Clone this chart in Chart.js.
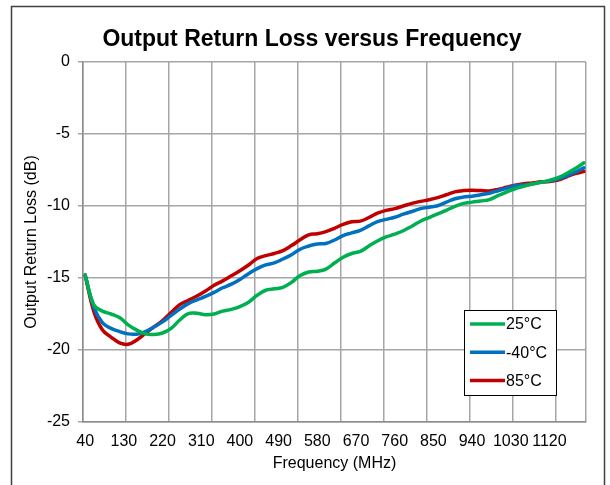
<!DOCTYPE html>
<html>
<head>
<meta charset="utf-8">
<script src="https://cdn.jsdelivr.net/npm/chart.js@4.4.1/dist/chart.umd.min.js"></script>
<style>
    html, body { margin: 0; padding: 0; background: #ffffff; }
    canvas { display: block; }
</style>
</head>
<body>
<canvas id="chartCanvasId" width="610" height="485"></canvas>
<script>
"use strict";

// frequency points (MHz), read every 20 MHz off the picture
const freqs = [
    40, 60, 80, 100, 120, 140, 160, 180, 200, 220,
    240, 260, 280, 300, 320, 340, 360, 380, 400, 420,
    440, 460, 480, 500, 520, 540, 560, 580, 600, 620,
    640, 660, 680, 700, 720, 740, 760, 780, 800, 820,
    840, 860, 880, 900, 920, 940, 960, 980, 1000, 1020,
    1040, 1060, 1080, 1100, 1120, 1140, 1160, 1180, 1200,
];

const loss25 = [
    -14.8, -16.85, -17.3, -17.5, -17.75, -18.25, -18.62, -18.88, -18.92, -18.82,
    -18.5, -17.92, -17.47, -17.45, -17.55, -17.5, -17.3, -17.18, -16.98, -16.68,
    -16.2, -15.85, -15.75, -15.65, -15.3, -14.83, -14.58, -14.53, -14.38, -13.96,
    -13.56, -13.3, -13.15, -12.78, -12.43, -12.15, -11.95, -11.72, -11.4, -11.06,
    -10.8, -10.55, -10.3, -10.02, -9.82, -9.73, -9.65, -9.56, -9.28, -9.03,
    -8.8, -8.63, -8.47, -8.35, -8.22, -8.03, -7.74, -7.4, -7.0,
];

const lossMinus40 = [
    -14.8, -17.0, -18.1, -18.5, -18.72, -18.88, -18.9, -18.72, -18.4, -18.05,
    -17.6, -17.15, -16.78, -16.52, -16.28, -16.0, -15.68, -15.43, -15.1, -14.7,
    -14.35, -14.09, -13.95, -13.68, -13.38, -13.0, -12.78, -12.64, -12.6, -12.36,
    -12.05, -11.87, -11.69, -11.38, -11.08, -10.93, -10.78, -10.57, -10.38, -10.18,
    -10.08, -9.98, -9.73, -9.5, -9.38, -9.32, -9.22, -9.11, -8.94, -8.77,
    -8.6, -8.54, -8.48, -8.36, -8.26, -8.13, -7.9, -7.65, -7.35,
];

const loss85 = [
    -14.8, -17.3, -18.6, -19.1, -19.5, -19.6, -19.3, -18.85, -18.4, -17.95,
    -17.4, -16.85, -16.55, -16.25, -15.9, -15.5, -15.2, -14.85, -14.5, -14.1,
    -13.65, -13.45, -13.3, -13.1, -12.75, -12.35, -12.0, -11.93, -11.78, -11.55,
    -11.28, -11.1, -11.05, -10.8, -10.5, -10.3, -10.18, -10.0, -9.82, -9.68,
    -9.57, -9.42, -9.22, -9.02, -8.93, -8.9, -8.93, -8.95, -8.85, -8.7,
    -8.55, -8.45, -8.4, -8.32, -8.3, -8.2, -7.97, -7.75, -7.6,
];

const seriesNames = ["25°C", "-40°C", "85°C"];
const seriesColors = ["#00b050", "#0070c0", "#c00000"];

const xLabelTicks = [40, 130, 220, 310, 400, 490, 580, 670, 760, 850, 940, 1030, 1120];
const xGridTicks = [35, 135, 235, 335, 435, 535, 635, 735, 835, 935, 1035, 1135, 1205];
const yTicks = [0, -5, -10, -15, -20, -25];

const fontFamily = "'Liberation Sans', Arial, sans-serif";
const gridColor = "#a6a6a6";

function toPoints(values) {
    return freqs.map((f, i) => ({ x: f, y: values[i] }));
}

// title, outer frame and legend box drawn straight onto the canvas
const framePlugin = {
    id: "frame",
    beforeDraw(chart) {
        const ctx = chart.ctx;
        ctx.save();
        ctx.fillStyle = "#ffffff";
        ctx.fillRect(0, 0, chart.width, chart.height);
        ctx.strokeStyle = "#404040";
        ctx.lineWidth = 1.5;
        ctx.strokeRect(11.5, 6.5, 593, 500);
        ctx.fillStyle = "#000000";
        ctx.font = "bold 23px " + fontFamily;
        ctx.textAlign = "center";
        ctx.textBaseline = "alphabetic";
        ctx.fillText("Output Return Loss versus Frequency", 312, 46);
        ctx.restore();
    },
    afterDraw(chart) {
        const ctx = chart.ctx;
        ctx.save();
        ctx.fillStyle = "#ffffff";
        ctx.fillRect(464, 310, 93, 86);
        ctx.strokeStyle = "#000000";
        ctx.lineWidth = 1;
        ctx.strokeRect(464.5, 310.5, 92, 85);
        ctx.font = "16px " + fontFamily;
        ctx.textAlign = "left";
        ctx.textBaseline = "middle";
        chart.data.datasets.forEach((ds, i) => {
            const y = 324 + i * 28.3;
            ctx.strokeStyle = ds.borderColor;
            ctx.lineWidth = 3.5;
            ctx.beginPath();
            ctx.moveTo(470, y);
            ctx.lineTo(505, y);
            ctx.stroke();
            ctx.fillStyle = "#000000";
            ctx.fillText(ds.label, 506, y + 1);
        });
        ctx.restore();
    },
};

const chartCanvas = document.getElementById("chartCanvasId");
const chartContext = chartCanvas.getContext("2d");

const myChart = new Chart(chartContext, {
    type: "line",
    data: {
        datasets: [
            { label: seriesNames[0], data: toPoints(loss25), borderColor: seriesColors[0] },
            { label: seriesNames[1], data: toPoints(lossMinus40), borderColor: seriesColors[1] },
            { label: seriesNames[2], data: toPoints(loss85), borderColor: seriesColors[2] },
        ],
    },
    options: {
        responsive: false,
        animation: false,
        devicePixelRatio: 1,
        layout: {
            padding: { left: 0, right: 24, top: 62, bottom: 0 },
        },
        elements: {
            point: { radius: 0 },
            line: { borderWidth: 3.5, tension: 0.4, borderJoinStyle: "round", borderCapStyle: "round" },
        },
        plugins: {
            legend: { display: false },
            title: { display: false },
            tooltip: { enabled: false },
        },
        scales: {
            x: {
                type: "linear",
                min: 35,
                max: 1205,
                afterBuildTicks: scale => {
                    const values = xLabelTicks.concat(xGridTicks).sort((a, b) => a - b);
                    scale.ticks = values.map(v => ({ value: v }));
                },
                afterFit: scale => { scale.height = 63; },
                ticks: {
                    autoSkip: false,
                    maxRotation: 0,
                    minRotation: 0,
                    padding: 10,
                    color: "#000000",
                    font: { family: fontFamily, size: 16 },
                    callback: value => xLabelTicks.includes(value) ? String(value) : "",
                },
                grid: {
                    drawTicks: false,
                    lineWidth: 1.5,
                    color: ctx => (ctx.tick && xGridTicks.includes(ctx.tick.value)) ? gridColor : "rgba(0,0,0,0)",
                },
                border: { color: "#8c8c8c", width: 1.5 },
                title: {
                    display: true,
                    text: "Frequency (MHz)",
                    color: "#000000",
                    font: { family: fontFamily, size: 16 },
                    padding: { top: 0, bottom: 12 },
                },
            },
            y: {
                min: -25,
                max: 0,
                afterBuildTicks: scale => {
                    scale.ticks = yTicks.map(v => ({ value: v }));
                },
                afterFit: scale => { scale.width = 83; },
                ticks: {
                    padding: 8,
                    color: "#000000",
                    font: { family: fontFamily, size: 16 },
                },
                grid: {
                    color: gridColor,
                    lineWidth: 1.5,
                    tickLength: 5,
                },
                border: { color: "#8c8c8c", width: 1.5 },
                title: {
                    display: true,
                    text: "Output Return Loss (dB)",
                    color: "#000000",
                    font: { family: fontFamily, size: 16 },
                    padding: { top: 22, bottom: 0 },
                },
            },
        },
    },
    plugins: [framePlugin],
});
</script>
</body>
</html>
